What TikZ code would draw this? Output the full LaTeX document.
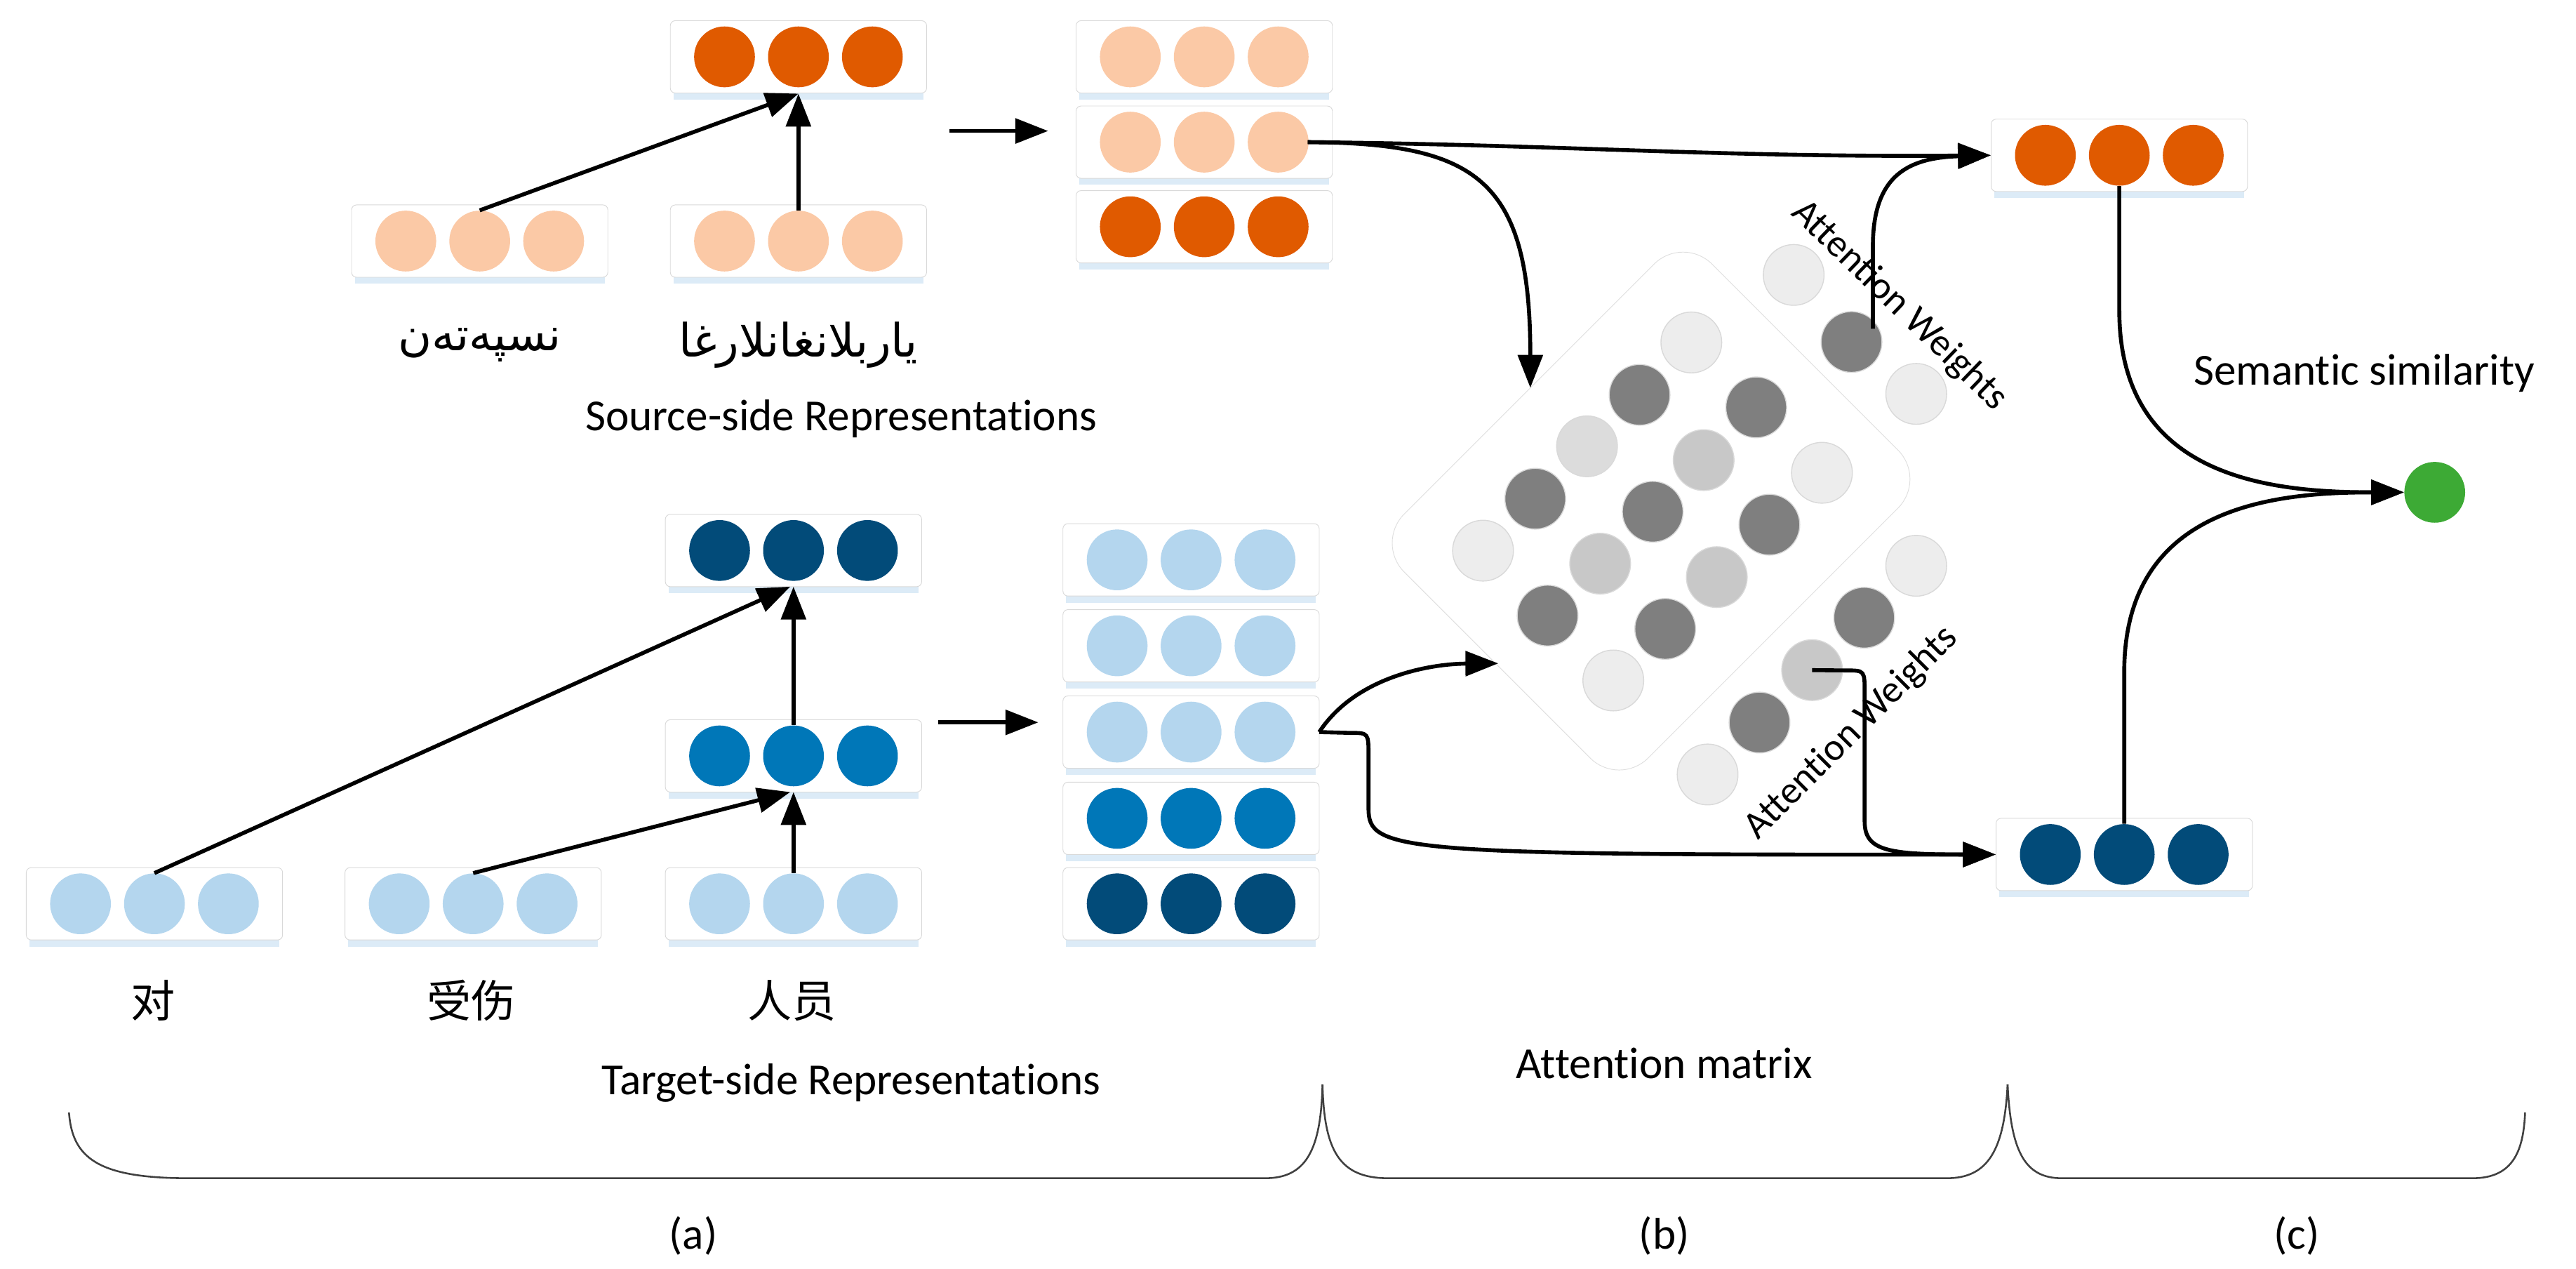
\documentclass[tikz,border=0pt]{standalone}
\usepackage{fontspec}
\setmainfont[RawFeature={-liga;-calt;-dlig;-clig}]{Carlito}
\newfontfamily\cjk{Noto Sans CJK SC}
\newfontfamily\arab[Script=Arabic]{DejaVu Sans}
\usetikzlibrary{arrows.meta}
\definecolor{lor}{HTML}{FBC9A6}
\definecolor{dor}{HTML}{E05A00}
\definecolor{lbl}{HTML}{B4D6EE}
\definecolor{mbl}{HTML}{0077B8}
\definecolor{dbl}{HTML}{024B79}
\definecolor{grn}{HTML}{3DAA35}
\definecolor{gD}{HTML}{7F7F7F}
\definecolor{gM}{HTML}{C8C8C8}
\definecolor{gN}{HTML}{DCDCDC}
\definecolor{gL}{HTML}{EDEDED}
\definecolor{shd}{HTML}{DCEBF7}
\tikzset{
  vbox/.style={draw=gray!30, fill=white, rounded corners=3pt, minimum width=156pt, minimum height=44pt, inner sep=0pt},
  dot/.style={circle, minimum size=37pt, inner sep=0pt, fill=#1},
  gdot/.style={circle, minimum size=37pt, inner sep=0pt, fill=#1, draw=gray!30, line width=0.6pt},
  conn/.style={line width=2.4pt},
  arr/.style={conn, -{Triangle[length=20pt,width=15pt]}},
  lab/.style={font=\fontsize{27}{30}\selectfont},
  aw/.style={font=\fontsize{23.5}{26}\selectfont},
  brace/.style={line width=1.1pt, draw=black!75}
}
\newcommand{\vb}[4]{%
  \fill[shd] (#2-76,#3+18) rectangle (#2+76,#3+26);
  \node[vbox] (#1) at (#2,#3) {};
  \node[dot=#4] (#1a) at (#2-45,#3) {};
  \node[dot=#4] (#1b) at (#2,#3) {};
  \node[dot=#4] (#1c) at (#2+45,#3) {};
}
\begin{document}
\begin{tikzpicture}[x=1pt,y=-1pt]
\useasboundingbox (0,0) rectangle (1568,772);
% source side
\vb{s0}{486}{34.6}{dor}
\vb{s1}{292}{146.7}{lor}
\vb{s2}{486}{146.7}{lor}
\node[font=\arab\fontsize{28}{30}\selectfont] (u1) at (292,210) {نسپەتەن};
\node[font=\arab\fontsize{28}{30}\selectfont] (u2) at (486,210) {ياربلانغانلارغا};
\node[lab] (srcl) at (512,255) {Source-side Representations};
\coordinate (sa1) at (578,79.7); \coordinate (sa2) at (638,79.7);
\draw[arr] (sa1) -- (sa2);
\vb{p0}{733}{34.6}{lor}
\vb{p1}{733}{86.5}{lor}
\vb{p2}{733}{138}{dor}
\draw[arr] (s1b.north) -- (486,57);
\draw[arr] (s2b.north) -- (486,57);
% target side
\vb{t0}{483}{335}{dbl}
\vb{t1}{483}{460}{mbl}
\vb{b0}{94}{550}{lbl}
\vb{b1}{288}{550}{lbl}
\vb{b2}{483}{550}{lbl}
\node[font=\cjk\fontsize{27}{30}\selectfont] (c1) at (93,609) {对};
\node[font=\cjk\fontsize{27}{30}\selectfont] (c2) at (287,609) {受伤};
\node[font=\cjk\fontsize{27}{30}\selectfont] (c3) at (482,609) {人员};
\node[lab] (tgtl) at (518,659) {Target-side Representations};
\draw[arr] (b0b.north) -- (481,357);
\draw[arr] (b1b.north) -- (481,482);
\draw[arr] (b2b.north) -- (483,482);
\draw[arr] (t1b.north) -- (483,357);
\coordinate (ta1) at (571,439.6); \coordinate (ta2) at (632,439.6);
\draw[arr] (ta1) -- (ta2);
\vb{q0}{725}{340.7}{lbl}
\vb{q1}{725}{393}{lbl}
\vb{q2}{725}{445.5}{lbl}
\vb{q3}{725}{498}{mbl}
\vb{q4}{725}{550}{dbl}
% attention matrix
\node[draw=gray!25, fill=white, rounded corners=25pt, minimum width=265pt, minimum height=210pt, rotate=45] (mat) at (1005,311) {};
\foreach \x/\y/\c [count=\i] in {1029.5/208.4/gL, 998/240.3/gD, 1069/247.9/gD, 966/271.6/gN, 1037/280/gM, 1109/287.7/gL, 934.5/303.5/gD, 1006/311.4/gD, 1077/319.3/gD, 902.7/335.1/gL, 974/343/gM, 1045/351.2/gM, 942/374.6/gD, 1013.6/382.7/gD, 982/414.1/gL}
  \node[gdot=\c] (m\i) at (\x,\y) {};
\node[gdot=gL] (w1) at (1091.8,167.3) {};
\node[gdot=gD] (w2) at (1127,208.1) {};
\node[gdot=gL] (w3) at (1166.4,239.7) {};
\node[gdot=gL] (v1) at (1166.4,344.3) {};
\node[gdot=gD] (v2) at (1134.7,375.9) {};
\node[gdot=gM] (v3) at (1103,407.8) {};
\node[gdot=gD] (v4) at (1071,439.7) {};
\node[gdot=gL] (v5) at (1039.4,471.3) {};
\node[aw, rotate=-44] (awt) at (1156,186) {Attention Weights};
\node[aw, rotate=45] (awb) at (1127,446) {Attention Weights};
% output
\vb{o0}{1290}{94.5}{dor}
\vb{o1}{1293}{520}{dbl}
\node[circle, fill=grn, minimum size=37pt, inner sep=0pt] (g) at (1482,299.6) {};
\node[lab] (seml) at (1439,227) {Semantic similarity};
% connectors
\coordinate (sp) at (796,86.5);
\draw[arr] (sp) .. controls (950,88) and (1050,96) .. (o0.west);
\draw[arr] (sp) .. controls (900,87) and (931.5,110) .. (931.5,236);
\draw[arr] (1140,200) -- (1140,150) .. controls (1140,108) and (1160,96) .. (o0.west);
\coordinate (tp) at (803,445.5);
\draw[arr] (tp) .. controls (825,412) and (870,404) .. (912,403.7);
\draw[arr] (tp) -- (822,446) .. controls (833,446) .. (833,460) -- (833,492) .. controls (833,518) and (850,520.5) .. (o1.west);
\draw[arr] (v3.center) -- (1124,408) .. controls (1135,408) .. (1135,422) -- (1135,500) .. controls (1135,518) and (1150,520) .. (o1.west);
\draw[arr] (o0b.south) -- (1290,189) .. controls (1290,290) and (1380,299.6) .. (g.west);
\draw[arr] (o1b.north) -- (1293,409) .. controls (1293,310) and (1380,299.6) .. (g.west);
% braces
\draw[brace] (42,677) .. controls (44,705) and (60,717) .. (115,717) -- (770,717) .. controls (795,717) and (804,700) .. (805,660);
\draw[brace] (805,660) .. controls (806,700) and (815,717) .. (845,717) -- (1185,717) .. controls (1210,717) and (1220,700) .. (1222,660);
\draw[brace] (1222,660) .. controls (1224,700) and (1232,717) .. (1255,717) -- (1505,717) .. controls (1530,717) and (1536,700) .. (1537,677);
\node[lab] (attl) at (1013,647) {Attention matrix};
\node[lab] (la) at (422,752) {(a)};
\node[lab] (lb) at (1013,752) {(b)};
\node[lab] (lc) at (1398,752) {(c)};
\end{tikzpicture}
\end{document}
